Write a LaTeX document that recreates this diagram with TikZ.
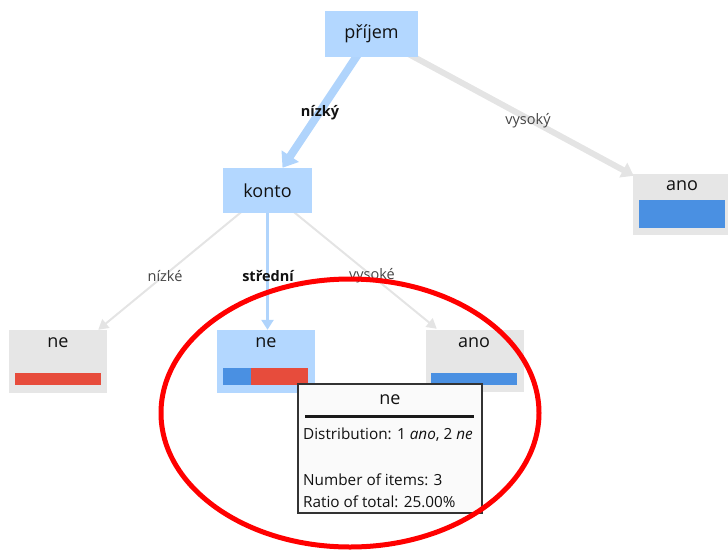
\documentclass[tikz,border=0pt]{standalone}
\usepackage{fontspec}
\setmainfont{Open Sans}
\usetikzlibrary{arrows.meta,backgrounds,calc}
\definecolor{nodeblue}{HTML}{B3D7FF}
\definecolor{edgeblue}{HTML}{B0D4FC}
\definecolor{leafgray}{HTML}{E6E6E6}
\definecolor{edgegray}{HTML}{E4E4E4}
\definecolor{barblue}{HTML}{4A90E2}
\definecolor{barred}{HTML}{E74C3C}
\definecolor{txt}{HTML}{111111}
\definecolor{lbl}{HTML}{444444}
\definecolor{tipfill}{HTML}{FAFAFA}
\definecolor{tipdraw}{HTML}{333333}
\begin{document}
\begin{tikzpicture}[x=1pt,y=-1pt,
  innerbox/.style={fill=nodeblue, inner sep=0, font=\fontsize{18}{21}\selectfont, text=txt},
  leafbox/.style={inner sep=0, minimum width=98pt},
  leaftext/.style={inner sep=0, font=\fontsize{18}{21}\selectfont, text=txt},
  bar/.style={inner sep=0, minimum height=12pt},
  edgelbl/.style={inner sep=0, font=\fontsize{14.5}{17}\selectfont, text=lbl},
  edgelblb/.style={inner sep=0, font=\fontsize{14.5}{17}\selectfont\bfseries, text=txt},
  tiptext/.style={inner sep=0, anchor=west, font=\fontsize{15.3}{18}\selectfont, text=txt},
  thickblue/.style={line width=8pt, edgeblue, -{Triangle[length=14pt,width=20pt]}},
  thickgray/.style={line width=6pt, edgegray, -{Triangle[length=12pt,width=16pt]}},
  thingray/.style={line width=2pt, edgegray, -{Triangle[length=10pt,width=11pt]}},
  thinblue/.style={line width=3pt, edgeblue, -{Triangle[length=10pt,width=12pt]}}
]
\useasboundingbox (0,0) rectangle (728,552);

% inner nodes
\node[innerbox, minimum width=93pt, minimum height=46pt] (prijem) at (371.5,34) {příjem};
\node[innerbox, minimum width=89pt, minimum height=45pt] (konto) at (267.5,190.5) {konto};

% leaf right
\node[leafbox, fill=leafgray, minimum height=61pt] (ano1) at (682,204.5) {};
\node[leaftext] (ano1t) at (682,186) {ano};
\node[bar, fill=barblue, minimum width=86pt, minimum height=28pt] (ano1b) at (682,214) {};

% leaf ne left
\node[leafbox, fill=leafgray, minimum height=63pt] (ne1) at (58,361.5) {};
\node[leaftext] (ne1t) at (58,343) {ne};
\node[bar, fill=barred, minimum width=86pt] (ne1b) at (58,379) {};

% leaf ne middle
\node[leafbox, fill=nodeblue, minimum height=63pt] (ne2) at (266,361.5) {};
\node[leaftext] (ne2t) at (266,343) {ne};
\node[bar, fill=barblue, minimum width=28pt, minimum height=17pt] (ne2bb) at (237,376.5) {};
\node[bar, fill=barred, minimum width=57pt, minimum height=17pt] (ne2br) at (279.5,376.5) {};

% leaf ano middle
\node[leafbox, fill=leafgray, minimum height=62pt] (ano2) at (475,361) {};
\node[leaftext] (ano2t) at (474,343) {ano};
\node[bar, fill=barblue, minimum width=86pt] (ano2b) at (474,379) {};

% edges
\begin{pgfonlayer}{background}
\draw[thickblue] (prijem.center) -- ($(konto.north)+(15,0)$);
\draw[thickgray] (prijem.center) -- ($(ano1.north west)+(1,2)$);
\draw[thingray] (konto.center) -- ($(ne1.north east)+(-9,0)$);
\draw[thingray] (konto.center) -- ($(ano2.north west)+(11,-1)$);
\draw[thinblue] (konto.center) -- (konto.center |- ne2.north);
\end{pgfonlayer}

% edge labels
\node[edgelblb] (l1) at (320,113) {nízký};
\node[edgelbl] (l2) at (528,121) {vysoký};
\node[edgelbl] (l3) at (165,276) {nízké};
\node[edgelblb] (l4) at (268,276) {střední};
\node[edgelbl] (l5) at (372,276) {vysoké};

% tooltip
\node[draw=tipdraw, fill=tipfill, line width=1.3pt, inner sep=0, minimum width=184pt, minimum height=129pt] (tip) at (390,448.5) {};
\node[leaftext] (tipt) at (390,400) {ne};
\draw[line width=2.5pt, black!90] ($(tip.north west)+(8,33)$) -- ($(tip.north east)+(-9,33)$);
\node[tiptext] (tip1) at (303,435) {Distribution: 1 \textit{ano}, 2 \textit{ne}};
\node[tiptext] (tip2) at (303,480) {Number of items: 3};
\node[tiptext] (tip3) at (303,502) {Ratio of total: 25.00\%};

% red ellipse annotation
\draw[red, line width=5pt] (350,413) ellipse [x radius=189, y radius=134];
\end{tikzpicture}
\end{document}
